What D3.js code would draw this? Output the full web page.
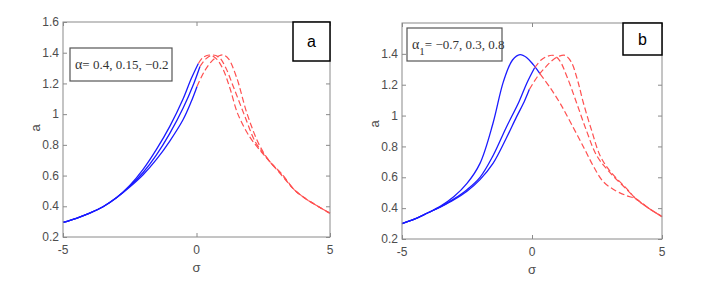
<!DOCTYPE html>
<html>
<head>
<meta charset="utf-8">
<script src="https://cdn.jsdelivr.net/npm/d3@7"></script>
<style>
  body { margin: 0; background: #fff; }
  .sans { font-family: "Liberation Sans", Arial, sans-serif; }
  .serif { font-family: "Liberation Serif", "Times New Roman", serif; }
</style>
</head>
<body>
<div id="chart"></div>
<script>
// ---- data ----
let xTicks = [-5, 0, 5];
let yTicksA = [0.2, 0.4, 0.6, 0.8, 1, 1.2, 1.4, 1.6];
let yTicksB = [0.2, 0.4, 0.6, 0.8, 1, 1.2, 1.4];

// panel a : alpha = 0.4, 0.15, -0.2
let aBlue1S = [-5, -4.5, -4, -3.5, -3, -2.5, -2, -1.5, -1, -0.5, -0.2, 0.07];
let aBlue1A = [0.295, 0.322, 0.355, 0.397, 0.455, 0.535, 0.64, 0.77, 0.92, 1.10, 1.23, 1.33];
let aBlue2S = [-5, -4.5, -4, -3.5, -3, -2.5, -2, -1.5, -1, -0.5, -0.1, 0.13];
let aBlue2A = [0.295, 0.322, 0.355, 0.397, 0.455, 0.53, 0.62, 0.735, 0.875, 1.04, 1.20, 1.31];
let aBlue3S = [-5, -4.5, -4, -3.5, -3, -2.5, -2, -1.5, -1, -0.5, -0.2, 0.02];
let aBlue3A = [0.295, 0.322, 0.355, 0.397, 0.455, 0.525, 0.605, 0.705, 0.825, 0.965, 1.08, 1.18];
let aRed1S = [0.07, 0.25, 0.5, 0.75, 1.0, 1.25, 1.55, 2.0, 2.4, 2.75, 3.2, 3.65, 4.0, 4.5, 5];
let aRed1A = [1.33, 1.37, 1.385, 1.36, 1.29, 1.17, 1.0, 0.85, 0.76, 0.69, 0.60, 0.51, 0.46, 0.405, 0.354];
let aRed2S = [0.13, 0.35, 0.6, 0.85, 1.1, 1.4, 1.78, 2.2, 2.5, 2.75, 3.2, 3.65, 4.0, 4.5, 5];
let aRed2A = [1.31, 1.36, 1.385, 1.37, 1.30, 1.17, 1.0, 0.82, 0.745, 0.69, 0.605, 0.51, 0.46, 0.405, 0.354];
let aRed3S = [0.02, 0.3, 0.6, 0.85, 1.0, 1.2, 1.5, 1.9, 2.35, 2.75, 3.2, 3.65, 4.0, 4.5, 5];
let aRed3A = [1.18, 1.28, 1.35, 1.38, 1.385, 1.36, 1.24, 1.0, 0.80, 0.69, 0.61, 0.51, 0.46, 0.405, 0.354];

// panel b : alpha1 = -0.7, 0.3, 0.8
let bBlue1S = [-5, -4.5, -4, -3.5, -3, -2.5, -2, -1.5, -1.1, -0.75, -0.46, -0.2, 0.05, 0.31];
let bBlue1A = [0.30, 0.33, 0.37, 0.415, 0.475, 0.56, 0.69, 0.95, 1.22, 1.36, 1.395, 1.375, 1.33, 1.27];
let bBlue2S = [-5, -4.5, -4, -3.5, -3, -2.5, -2, -1.5, -1, -0.5, -0.2, 0.1];
let bBlue2A = [0.30, 0.33, 0.37, 0.41, 0.46, 0.52, 0.60, 0.74, 0.92, 1.09, 1.21, 1.31];
let bBlue3S = [-5, -4.5, -4, -3.5, -3, -2.5, -2, -1.5, -1, -0.6, -0.3, -0.1];
let bBlue3A = [0.30, 0.33, 0.37, 0.41, 0.455, 0.51, 0.585, 0.69, 0.85, 0.99, 1.09, 1.17];
let bRed1S = [0.31, 0.7, 1.08, 1.5, 2.0, 2.4, 2.75, 3.2, 3.65, 4.0, 4.5, 5];
let bRed1A = [1.27, 1.18, 1.08, 0.95, 0.79, 0.66, 0.57, 0.515, 0.48, 0.46, 0.398, 0.345];
let bRed2S = [0.1, 0.35, 0.6, 0.82, 1.05, 1.35, 1.72, 2.1, 2.49, 3.0, 3.65, 4.0, 4.5, 5];
let bRed2A = [1.31, 1.36, 1.385, 1.39, 1.36, 1.25, 1.08, 0.90, 0.74, 0.63, 0.52, 0.46, 0.398, 0.345];
let bRed3S = [-0.1, 0.2, 0.5, 0.8, 1.05, 1.27, 1.5, 1.75, 1.98, 2.3, 2.62, 3.0, 3.65, 4.0, 4.5, 5];
let bRed3A = [1.17, 1.25, 1.31, 1.36, 1.385, 1.39, 1.35, 1.23, 1.08, 0.90, 0.74, 0.64, 0.525, 0.46, 0.398, 0.345];

let svg = d3.select("#chart").append("svg")
  .attr("width", 721)
  .attr("height", 302);

function zip(s, a) {
  return s.map(function(d, i) { return [d, a[i]]; });
}

function drawPanel(p) {
  let x = d3.scaleLinear().domain([-5, 5]).range([p.left, p.right]);
  let y = d3.scaleLinear().domain([0.2, 1.6]).range([p.bottom, p.top]);
  let g = svg.append("g").attr("class", "sans");
  let axisCol = "#8a8a8a";

  // ticks inside the box, on all sides (matlab style)
  g.append("g").attr("transform", "translate(" + p.left + ",0)")
    .call(d3.axisRight(y).tickValues(p.yTicks).tickSize(4).tickFormat(""))
    .call(function(s) { s.select(".domain").remove(); });
  g.append("g").attr("transform", "translate(" + p.right + ",0)")
    .call(d3.axisLeft(y).tickValues(p.yTicks).tickSize(4).tickFormat(""))
    .call(function(s) { s.select(".domain").remove(); });
  g.append("g").attr("transform", "translate(0," + p.bottom + ")")
    .call(d3.axisTop(x).tickValues(xTicks).tickSize(4).tickFormat(""))
    .call(function(s) { s.select(".domain").remove(); });
  g.append("g").attr("transform", "translate(0," + p.top + ")")
    .call(d3.axisBottom(x).tickValues(xTicks).tickSize(4).tickFormat(""))
    .call(function(s) { s.select(".domain").remove(); });
  g.selectAll(".tick line").attr("stroke", axisCol);

  // tick labels
  g.selectAll(".ylab").data(p.yTicks).enter().append("text")
    .attr("x", p.left - 4)
    .attr("y", function(d) { return y(d); })
    .attr("dy", "0.35em")
    .attr("text-anchor", "end")
    .attr("font-size", 12)
    .attr("fill", "#4d4d4d")
    .text(function(d) { return d; });
  g.selectAll(".xlab").data(xTicks).enter().append("text")
    .attr("x", function(d) { return x(d); })
    .attr("y", p.bottom + 17)
    .attr("text-anchor", "middle")
    .attr("font-size", 12)
    .attr("fill", "#4d4d4d")
    .text(function(d) { return d; });

  // axis titles
  g.append("text")
    .attr("x", (p.left + p.right) / 2)
    .attr("y", p.bottom + 35)
    .attr("text-anchor", "middle")
    .attr("font-size", 13)
    .attr("fill", "#4d4d4d")
    .text("σ");
  g.append("text")
    .attr("transform", "translate(" + p.yTitleX + "," + p.yTitleY + ") rotate(-90)")
    .attr("text-anchor", "middle")
    .attr("font-size", 13)
    .attr("fill", "#4d4d4d")
    .text("a");

  let line = d3.line()
    .x(function(d) { return x(d[0]); })
    .y(function(d) { return y(d[1]); })
    .curve(d3.curveCatmullRom.alpha(0.5));

  p.blue.forEach(function(c) {
    g.append("path").attr("d", line(c))
      .attr("fill", "none").attr("stroke", "#1a1aff").attr("stroke-width", 1.3);
  });
  p.red.forEach(function(c) {
    g.append("path").attr("d", line(c))
      .attr("fill", "none").attr("stroke", "#ff5050").attr("stroke-width", 1.2)
      .attr("stroke-dasharray", "6,3");
  });

  // frame
  g.append("rect")
    .attr("x", p.left).attr("y", p.top)
    .attr("width", p.right - p.left).attr("height", p.bottom - p.top)
    .attr("fill", "none").attr("stroke", axisCol).attr("stroke-width", 1);

  // legend box
  g.append("rect")
    .attr("x", p.leg[0]).attr("y", p.leg[1])
    .attr("width", p.leg[2]).attr("height", p.leg[3])
    .attr("fill", "#fff").attr("stroke", "#555").attr("stroke-width", 1.2);
  let lt = g.append("text")
    .attr("class", "serif")
    .attr("x", p.leg[0] + 5)
    .attr("y", p.leg[1] + 21)
    .attr("font-size", 13)
    .attr("fill", "#333");
  lt.append("tspan").attr("font-size", 14).text("α");
  if (p.sub) {
    lt.append("tspan").attr("dy", 6).attr("font-size", 11).text(p.sub);
    lt.append("tspan").attr("dy", -6).text(p.legText);
  } else {
    lt.append("tspan").text(p.legText);
  }

  // panel letter
  g.append("rect")
    .attr("x", p.tag[0]).attr("y", p.tag[1])
    .attr("width", p.tag[2]).attr("height", p.tag[3])
    .attr("fill", "#fff").attr("stroke", "#000").attr("stroke-width", 1.5);
  g.append("text")
    .attr("x", p.tag[0] + p.tag[2] / 2)
    .attr("y", p.tag[1] + p.tag[3] / 2)
    .attr("dy", "0.35em")
    .attr("text-anchor", "middle")
    .attr("font-size", 16)
    .attr("fill", "#000")
    .text(p.letter);
}

drawPanel({
  left: 63, right: 330, top: 22, bottom: 237,
  yTicks: yTicksA,
  yTitleX: 40, yTitleY: 128,
  blue: [zip(aBlue1S, aBlue1A), zip(aBlue2S, aBlue2A), zip(aBlue3S, aBlue3A)],
  red: [zip(aRed1S, aRed1A), zip(aRed2S, aRed2A), zip(aRed3S, aRed3A)],
  leg: [70, 48, 102, 33],
  legText: "= 0.4, 0.15, \u22120.2",
  tag: [293, 22, 37, 39],
  letter: "a"
});

drawPanel({
  left: 402, right: 662, top: 23, bottom: 239,
  yTicks: yTicksB,
  yTitleX: 379, yTitleY: 124,
  blue: [zip(bBlue1S, bBlue1A), zip(bBlue2S, bBlue2A), zip(bBlue3S, bBlue3A)],
  red: [zip(bRed1S, bRed1A), zip(bRed2S, bRed2A), zip(bRed3S, bRed3A)],
  leg: [407, 28, 95, 33],
  sub: "1",
  legText: "= \u22120.7, 0.3, 0.8",
  tag: [623, 23, 39, 32],
  letter: "b"
});
</script>
</body>
</html>
